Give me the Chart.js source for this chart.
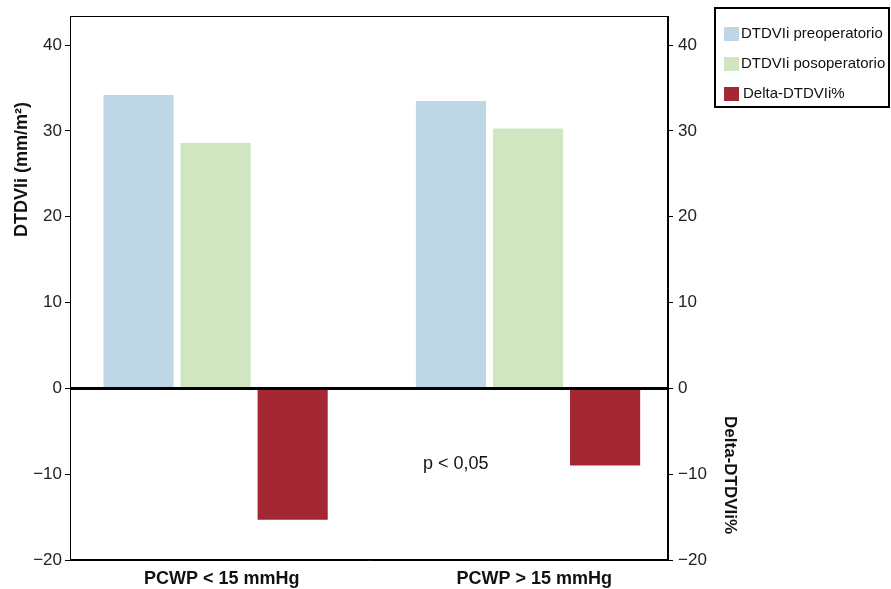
<!DOCTYPE html>
<html>
<head>
<meta charset="utf-8">
<title>DTDVIi por PCWP</title>
<script src="https://cdn.jsdelivr.net/npm/chart.js"></script>
<style>
    html, body { margin: 0; padding: 0; background: #fff; }
    #wrap { width: 891px; height: 589px; position: relative; }
</style>
</head>
<body>
<div id="wrap"><canvas id="dtdvChart"></canvas></div>
<script>
    const categories = ['PCWP < 15 mmHg', 'PCWP > 15 mmHg'];
    const preoperatorio = [34.2, 33.5];
    const posoperatorio = [28.6, 30.3];
    const deltaPct = [-15.3, -9.0];
    const yTicks = [-20, -10, 0, 10, 20, 30, 40];
    const pLabel = 'p < 0,05';

    const FONT = '"Liberation Sans", Arial, Helvetica, sans-serif';
    const minus = v => String(v).replace('-', '\u2212');
    const points = arr => arr.map((v, i) => ({ x: i, y: v }));

    // frame, zero line, axis titles, p value and the boxed legend
    const extras = {
        id: 'extras',
        afterDatasetsDraw(chart) {
            const ctx = chart.ctx;
            const a = chart.chartArea;
            const y = chart.scales.y;
            ctx.save();
            ctx.strokeStyle = '#000';
            ctx.lineWidth = 1;
            ctx.strokeRect(a.left + 0.5, a.top + 0.5, a.right - a.left - 1, a.bottom - a.top - 1);
            ctx.lineWidth = 3;
            ctx.beginPath();
            ctx.moveTo(a.left, y.getPixelForValue(0));
            ctx.lineTo(a.right, y.getPixelForValue(0));
            ctx.stroke();
            ctx.restore();
        },
        afterDraw(chart) {
            const ctx = chart.ctx;
            const a = chart.chartArea;
            const y = chart.scales.y;
            ctx.save();
            ctx.fillStyle = '#111';
            ctx.textAlign = 'center';
            ctx.textBaseline = 'middle';

            ctx.font = 'bold 18px ' + FONT;
            ctx.save();
            ctx.translate(22, y.getPixelForValue(25.5));
            ctx.rotate(-Math.PI / 2);
            ctx.fillText('DTDVIi (mm/m²)', 0, 0);
            ctx.restore();
            ctx.font = 'bold 17px ' + FONT;
            ctx.save();
            ctx.translate(a.right + 62, y.getPixelForValue(-10.1));
            ctx.rotate(Math.PI / 2);
            ctx.fillText('Delta-DTDVIi%', 0, 0);
            ctx.restore();

            ctx.font = '18px ' + FONT;
            ctx.fillText(pLabel, a.left + (a.right - a.left) * 0.645, y.getPixelForValue(-8.8));

            // legend
            const bx = 715, by = 8, bw = 174, bh = 99;
            ctx.lineWidth = 2;
            ctx.strokeStyle = '#000';
            ctx.strokeRect(bx, by, bw, bh);
            ctx.textAlign = 'left';
            ctx.font = '15px ' + FONT;
            chart.data.datasets.forEach((ds, i) => {
                const ry = by + 26 + i * 30;
                const shift = i === 2 ? 2 : 0;
                ctx.fillStyle = ds.backgroundColor;
                ctx.fillRect(bx + 9, ry - 7, 15, 14);
                ctx.fillStyle = '#111';
                ctx.fillText(ds.label, bx + 26 + shift, ry);
            });
            ctx.restore();
        }
    };

    const yCommon = {
        min: -20,
        max: 43.4,
        afterBuildTicks(s) { s.ticks = yTicks.map(v => ({ value: v })); },
        grid: { drawOnChartArea: false, drawTicks: true, tickLength: 5, color: '#000' },
        border: { display: true, color: '#000', width: 1 },
        ticks: { color: '#222', font: { family: FONT, size: 17 }, callback: minus }
    };

    new Chart(document.getElementById('dtdvChart').getContext('2d'), {
        type: 'bar',
        data: {
            datasets: [
                { label: 'DTDVIi preoperatorio', data: points(preoperatorio), backgroundColor: '#bed6e6', yAxisID: 'y' },
                { label: 'DTDVIi posoperatorio', data: points(posoperatorio), backgroundColor: '#d0e6c0', yAxisID: 'y' },
                { label: 'Delta-DTDVIi%', data: points(deltaPct), backgroundColor: '#a42734', yAxisID: 'y2' }
            ]
        },
        options: {
            responsive: true,
            maintainAspectRatio: false,
            animation: false,
            categoryPercentage: 0.74,
            barPercentage: 0.91,
            layout: { padding: { top: 16, right: 143, left: 0, bottom: 0 } },
            plugins: { legend: { display: false }, tooltip: { enabled: false } },
            scales: {
                x: {
                    type: 'linear',
                    offset: false,
                    min: -0.466,
                    max: 1.448,
                    afterBuildTicks(s) { s.ticks = categories.map((c, i) => ({ value: i + 0.02 })); },
                    grid: { display: false, drawTicks: false },
                    border: { display: true, color: '#000', width: 1 },
                    ticks: {
                        color: '#111',
                        font: { family: FONT, size: 18, weight: 'bold' },
                        padding: 8,
                        callback: v => categories[Math.round(v)]
                    },
                    afterFit(s) { s.height = 29; }
                },
                y: Object.assign({}, yCommon, {
                    position: 'left',
                    ticks: Object.assign({}, yCommon.ticks, { padding: 3 }),
                    afterFit(s) { s.width = 70; }
                }),
                y2: Object.assign({}, yCommon, {
                    position: 'right',
                    ticks: Object.assign({}, yCommon.ticks, { padding: 5 }),
                    afterFit(s) { s.width = 80; }
                })
            }
        },
        plugins: [extras]
    });
</script>
</body>
</html>
